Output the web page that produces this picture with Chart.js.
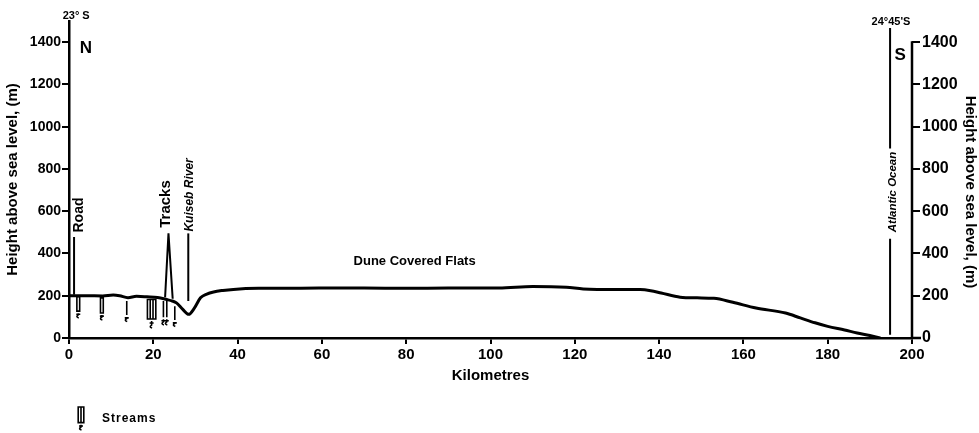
<!DOCTYPE html>
<html>
<head>
<meta charset="utf-8">
<title>Height profile, 23° S to 24°45' S</title>
<script src="https://cdn.jsdelivr.net/npm/chart.js@4/dist/chart.umd.min.js"></script>
<style>
  html, body { margin: 0; padding: 0; background: #fff; }
  #wrap { width: 979px; height: 433px; }
</style>
</head>
<body>
<div id="wrap"><canvas id="profile" width="979" height="433"></canvas></div>
<script>
// Ground profile along the transect
const profileKm = [0, 4, 8, 10.5, 12, 14, 16, 18.5, 21, 23.2, 24.5, 25.5, 27, 28.4, 29.7, 31.2, 32.7, 34.3, 36.5, 39, 45, 55, 65, 75, 85, 95, 102, 110, 118, 122, 130, 135.5, 138, 140.5, 145, 149, 153, 157.5, 163, 170, 173.5, 177, 180, 184, 187, 190, 192.5];
const profileHeight = [200, 200, 199, 203, 200, 191, 197, 195, 192, 182, 175, 166, 135, 112, 140, 190, 208, 218, 225, 230, 235, 236, 237, 236, 236, 237, 237, 244, 240, 232, 229, 229, 224, 213, 193, 190, 188, 169, 142, 118, 95, 72, 55, 38, 24, 12, 0];

// Axis tick values
const kmTicks = [0, 20, 40, 60, 80, 100, 120, 140, 160, 180, 200];
const heightTicks = [0, 200, 400, 600, 800, 1000, 1200, 1400];

// Stream crossings: position, top and bottom of the symbol (m), number of channels
const streamKm = [2.2, 7.8, 13.7, 19.6, 22.4, 23.2, 25.1];
const streamTop = [195, 190, 175, 182, 175, 175, 150];
const streamBottom = [95, 85, 78, 47, 62, 62, 55];
const streamChannels = [2, 2, 1, 4, 1, 1, 1];

// Landmark markers
const roadKm = [1.2, 1.2];
const roadHeight = [205, 478];
const tracksKm = [22.8, 23.6, 24.6];
const tracksHeight = [193, 495, 186];
const kuisebKm = [28.3, 28.3];
const kuisebHeight = [175, 495];
const oceanKm = [194.8, 194.8, 194.8, 194.8, 194.8];
const oceanHeight = [15, 470, null, 897, 1467];

const FONT = "'Liberation Sans', Arial, sans-serif";

function points(xs, ys) {
  return xs.map((v, i) => ({ x: v, y: ys[i] }));
}

function markerSet(xs, ys, width) {
  return {
    data: points(xs, ys),
    borderColor: '#000',
    borderWidth: width,
    pointRadius: 0,
    spanGaps: false,
    tension: 0
  };
}

function drawStream(ctx, cx, top, bottom, n) {
  const gap = 2.8;
  const split = bottom - (bottom - top) * 0.32;
  const x0 = cx - (n - 1) * gap / 2;
  ctx.lineWidth = 1.6;
  ctx.beginPath();
  for (let k = 0; k < n; k++) {
    ctx.moveTo(x0 + k * gap, top);
    ctx.lineTo(x0 + k * gap, split);
  }
  if (n > 1) {
    ctx.moveTo(x0 - 0.8, top);
    ctx.lineTo(x0 + (n - 1) * gap + 0.8, top);
    ctx.moveTo(x0 - 0.8, split);
    ctx.lineTo(x0 + (n - 1) * gap + 0.8, split);
  }
  ctx.moveTo(cx, split + 2);
  ctx.lineTo(cx, bottom - 3);
  ctx.quadraticCurveTo(cx - 3, bottom - 1, cx + 0.5, bottom);
  ctx.moveTo(cx - 2, split + (bottom - split) * 0.45);
  ctx.lineTo(cx + 2, split + (bottom - split) * 0.45);
  ctx.stroke();
}

function drawText(ctx, text, px, py, font, rot) {
  ctx.save();
  ctx.translate(px, py);
  ctx.rotate(rot);
  ctx.font = font;
  ctx.textAlign = 'center';
  ctx.textBaseline = 'middle';
  ctx.fillText(text, 0, 0);
  ctx.restore();
}

// Place names and notes drawn in chart units: [text, km, height, font, rotation]
const notes = [
  ['23° S', 1.7, 1524, 'bold 11px ' + FONT, 0],
  ['N', 4.0, 1372, 'bold 17px ' + FONT, 0],
  ['Road', 2.4, 582, 'bold 14px ' + FONT, -Math.PI / 2],
  ['Tracks', 23.0, 634, 'bold 15px ' + FONT, -Math.PI / 2],
  ['Kuiseb River', 28.6, 677, 'italic bold 12px ' + FONT, -Math.PI / 2],
  ['Dune Covered Flats', 82, 360, 'bold 13px ' + FONT, 0],
  ['24°45\'S', 195.0, 1495, 'bold 11px ' + FONT, 0],
  ['S', 197.2, 1339, 'bold 17px ' + FONT, 0],
  ['Atlantic Ocean', 195.4, 691, 'italic bold 11.5px ' + FONT, -Math.PI / 2]
];

const profileMarks = {
  id: 'profileMarks',
  afterDatasetsDraw(chart) {
    const { ctx, scales: { x, y }, chartArea } = chart;
    ctx.save();
    ctx.strokeStyle = '#000';
    ctx.fillStyle = '#000';

    streamKm.forEach((km, i) => {
      drawStream(ctx, x.getPixelForValue(km), y.getPixelForValue(streamTop[i]),
        y.getPixelForValue(streamBottom[i]), streamChannels[i]);
    });

    notes.forEach(([text, km, h, font, rot]) => {
      drawText(ctx, text, x.getPixelForValue(km), y.getPixelForValue(h), font, rot);
    });

    // right-hand height axis, drawn only up to its top tick
    ctx.lineWidth = 2.5;
    ctx.beginPath();
    ctx.moveTo(chartArea.right, y.getPixelForValue(0) + 1);
    ctx.lineTo(chartArea.right, y.getPixelForValue(heightTicks[heightTicks.length - 1]) - 1);
    // baseline runs a little past the right axis
    ctx.moveTo(chartArea.right, y.getPixelForValue(0));
    ctx.lineTo(chartArea.right + 9, y.getPixelForValue(0));
    ctx.stroke();

    // right axis title
    drawText(ctx, 'Height above sea level, (m)', chart.width - 9, y.getPixelForValue(691),
      'bold 15px ' + FONT, Math.PI / 2);

    // key
    const kx = 81, ky = 407;
    drawStream(ctx, kx, ky, ky + 23, 3);
    ctx.font = 'bold 12px ' + FONT;
    ctx.letterSpacing = '1px';
    ctx.textAlign = 'left';
    ctx.textBaseline = 'middle';
    ctx.fillText('Streams', 102, ky + 12);
    ctx.restore();
  }
};

const tickFont = (size) => ({ family: FONT, size: size, weight: 'bold' });

new Chart(document.getElementById('profile'), {
  type: 'line',
  data: {
    datasets: [
      {
        data: points(profileKm, profileHeight),
        borderColor: '#000',
        borderWidth: 3,
        pointRadius: 0,
        cubicInterpolationMode: 'monotone'
      },
      markerSet(roadKm, roadHeight, 2),
      markerSet(tracksKm, tracksHeight, 2),
      markerSet(kuisebKm, kuisebHeight, 2),
      markerSet(oceanKm, oceanHeight, 2)
    ]
  },
  options: {
    responsive: false,
    animation: false,
    devicePixelRatio: 1,
    layout: { padding: { top: 21, left: 0, right: 0, bottom: 0 } },
    plugins: {
      legend: { display: false },
      tooltip: { enabled: false }
    },
    scales: {
      x: {
        type: 'linear',
        min: 0,
        max: 200,
        afterBuildTicks: (s) => { s.ticks = kmTicks.map(v => ({ value: v })); },
        afterFit: (s) => { s.height = 95; },
        grid: { drawOnChartArea: false, drawTicks: true, tickLength: 6, color: '#000', lineWidth: 2 },
        border: { display: true, color: '#000', width: 2.5 },
        ticks: { color: '#000', font: tickFont(15), padding: 2, maxRotation: 0, callback: (v) => String(v) },
        title: {
          display: true,
          text: 'Kilometres',
          color: '#000',
          font: tickFont(15),
          padding: { top: 0, bottom: 48 }
        }
      },
      y: {
        position: 'left',
        min: 0,
        max: 1500,
        afterBuildTicks: (s) => { s.ticks = heightTicks.map(v => ({ value: v })); },
        afterFit: (s) => { s.width = 69; },
        grid: { drawOnChartArea: false, drawTicks: true, tickLength: 7, color: '#000', lineWidth: 2 },
        border: { display: true, color: '#000', width: 2.5 },
        ticks: { color: '#000', font: tickFont(14), padding: 1, callback: (v) => String(v) },
        title: {
          display: true,
          text: 'Height above sea level, (m)',
          color: '#000',
          font: tickFont(15),
          padding: { top: 4, bottom: 0 }
        }
      },
      y2: {
        position: 'right',
        min: 0,
        max: 1500,
        afterBuildTicks: (s) => { s.ticks = heightTicks.map(v => ({ value: v })); },
        afterFit: (s) => { s.width = 67; },
        grid: { drawOnChartArea: false, drawTicks: true, tickLength: 8, color: '#000', lineWidth: 2 },
        border: { display: false },
        ticks: { color: '#000', font: tickFont(16), padding: 2, callback: (v) => String(v) }
      }
    }
  },
  plugins: [profileMarks]
});
</script>
</body>
</html>
